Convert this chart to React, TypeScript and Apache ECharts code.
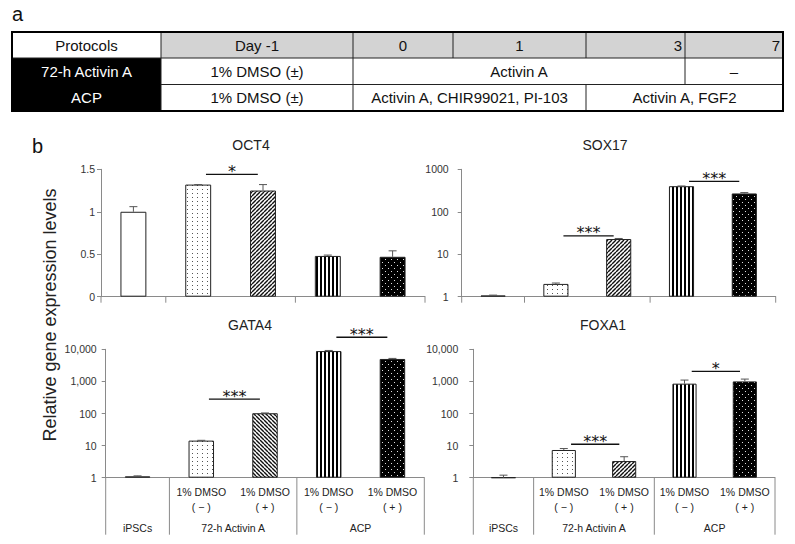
import React, { useEffect, useRef } from 'react';
import * as echarts from 'echarts';

// ---------------- Data ----------------
const categories = [
  'iPSCs',
  '72-h Activin A 1% DMSO (−)',
  '72-h Activin A 1% DMSO (+)',
  'ACP 1% DMSO (−)',
  'ACP 1% DMSO (+)',
];
const dmsoLabels = ['', '1% DMSO', '1% DMSO', '1% DMSO', '1% DMSO'];
const dmsoSigns = ['', '( − )', '( + )', '( − )', '( + )'];
const groupLabels = ['iPSCs', '72-h Activin A', 'ACP'];
const groupMembers = [[0], [1, 2], [3, 4]];
const groupBoundaries = [0, 1, 3, 5];

const oct4Mean = [1.0, 1.32, 1.25, 0.48, 0.47];
const oct4Upper = [1.06, 1.32, 1.32, 0.49, 0.54];
const sox17Mean = [1.07, 2.0, 22.8, 400, 270];
const sox17Upper = [1.09, 2.1, 23.5, 405, 283];
const gata4Mean = [1.1, 14.3, 102, 8800, 5000];
const gata4Upper = [1.14, 14.6, 104, 9200, 5200];
const foxa1Mean = [1.0, 7.3, 3.3, 850, 1000];
const foxa1Upper = [1.2, 8.1, 4.5, 1100, 1180];

// significance brackets: [from category, to category, bracket height]
const oct4Sig = [[1, 2, 1.44]];
const oct4SigLabels = ['*'];
const sox17Sig = [[1, 2, 27], [3, 4, 520]];
const sox17SigLabels = ['***', '***'];
const gata4Sig = [[1, 2, 280], [3, 4, 23700]];
const gata4SigLabels = ['***', '***'];
const foxa1Sig = [[1, 2, 11], [3, 4, 2050]];
const foxa1SigLabels = ['***', '*'];

const tableHeader = ['Protocols', 'Day -1', '0', '1', '3', '7'];
const tableRowNames = ['72-h Activin A', 'ACP'];
const row1Cells = ['1% DMSO (±)', 'Activin A', '–'];
const row2Cells = ['1% DMSO (±)', 'Activin A, CHIR99021, PI-103', 'Activin A, FGF2'];

// ---------------- Layout / style ----------------
const FONT = '"Liberation Sans", Arial, Helvetica, sans-serif';
const AXIS = '#8a8a8a';
const TABLE_X = [12, 161, 353, 453, 586, 685, 783];
const TABLE_Y = [32, 58, 84.5, 111];

const panels = [
  {
    title: 'OCT4', mean: oct4Mean, upper: oct4Upper, sig: oct4Sig, sigLabels: oct4SigLabels,
    log: false, min: 0, max: 1.5, hatch: 'hatchUp', bottom: false, comma: false,
    rect: { left: 101, top: 169.3, width: 324, height: 127.4 }, titlePos: [251, 145], labelMargin: 6,
  },
  {
    title: 'SOX17', mean: sox17Mean, upper: sox17Upper, sig: sox17Sig, sigLabels: sox17SigLabels,
    log: true, min: 1, max: 1000, hatch: 'hatchUp', bottom: false, comma: false,
    rect: { left: 461.7, top: 169.3, width: 314, height: 127.4 }, titlePos: [605, 145], labelMargin: 13,
  },
  {
    title: 'GATA4', mean: gata4Mean, upper: gata4Upper, sig: gata4Sig, sigLabels: gata4SigLabels,
    log: true, min: 1, max: 10000, hatch: 'hatchDown', bottom: true, comma: true,
    rect: { left: 105.7, top: 349.3, width: 318.6, height: 128.4 }, titlePos: [250, 325], labelMargin: 9,
  },
  {
    title: 'FOXA1', mean: foxa1Mean, upper: foxa1Upper, sig: foxa1Sig, sigLabels: foxa1SigLabels,
    log: true, min: 1, max: 10000, hatch: 'hatchUp', bottom: true, comma: true,
    rect: { left: 473.3, top: 349.3, width: 301.7, height: 128.4 }, titlePos: [603, 325], labelMargin: 15,
  },
];

function makePattern(kind: string): any {
  const c = document.createElement('canvas');
  let w = 4;
  let h = 4;
  if (kind === 'dots') { w = 5; h = 4; }
  if (kind === 'vstripes') { w = 4; h = 2; }
  if (kind === 'blackdots') { w = 6; h = 6; }
  c.width = w;
  c.height = h;
  const ctx = c.getContext('2d') as CanvasRenderingContext2D;
  ctx.fillStyle = kind === 'blackdots' ? '#000' : '#fff';
  ctx.fillRect(0, 0, w, h);
  if (kind === 'dots') {
    ctx.fillStyle = '#555';
    ctx.fillRect(2, 1, 1, 1);
  }
  if (kind === 'vstripes') {
    ctx.fillStyle = '#000';
    ctx.fillRect(0, 0, 2, h);
  }
  if (kind === 'blackdots') {
    ctx.fillStyle = '#e0e0e0';
    ctx.fillRect(1, 1, 1, 1);
    ctx.fillRect(4, 4, 1, 1);
  }
  if (kind === 'hatchUp' || kind === 'hatchDown') {
    ctx.strokeStyle = '#111';
    ctx.lineWidth = 1.4;
    const up = kind === 'hatchUp';
    for (const o of [-w, 0, w]) {
      ctx.beginPath();
      if (up) { ctx.moveTo(o, h); ctx.lineTo(o + w, 0); }
      else { ctx.moveTo(o, 0); ctx.lineTo(o + w, h); }
      ctx.stroke();
    }
  }
  return { image: c, repeat: 'repeat', imageWidth: w, imageHeight: h };
}

function txt(text: string, x: number, y: number, opts: any = {}) {
  const align = opts.align || 'center';
  return {
    type: 'text',
    x,
    y,
    rotation: opts.rotation || 0,
    silent: true,
    z: opts.z || 10,
    style: {
      text,
      fill: opts.fill || '#111',
      fontSize: opts.fontSize || 15,
      fontFamily: opts.fontFamily || FONT,
      align,
      textAlign: align,
      verticalAlign: 'middle',
      textVerticalAlign: 'middle',
    },
  };
}

function buildTable(): any[] {
  const tx = TABLE_X;
  const ty = TABLE_Y;
  const els: any[] = [];
  const rect = (x: number, y: number, w: number, h: number, fill: string) => ({
    type: 'rect', silent: true, z: 5, shape: { x, y, width: w, height: h }, style: { fill },
  });
  const line = (x1: number, y1: number, x2: number, y2: number, color = '#222') => ({
    type: 'line', silent: true, z: 6, shape: { x1, y1, x2, y2 }, style: { stroke: color, lineWidth: 1 },
  });
  els.push(rect(tx[0], ty[0], tx[1] - tx[0], ty[1] - ty[0], '#ffffff'));
  els.push(rect(tx[1], ty[0], tx[6] - tx[1], ty[1] - ty[0], '#d3d3d3'));
  els.push(rect(tx[0], ty[1], tx[1] - tx[0], ty[3] - ty[1], '#000000'));
  els.push(line(tx[0], ty[1], tx[6], ty[1]));
  els.push(line(tx[1], ty[2], tx[6], ty[2]));
  els.push(line(tx[1], ty[0], tx[1], ty[3]));
  els.push(line(tx[2], ty[0], tx[2], ty[3]));
  els.push(line(tx[3], ty[0], tx[3], ty[1]));
  els.push(line(tx[4], ty[0], tx[4], ty[1]));
  els.push(line(tx[4], ty[2], tx[4], ty[3]));
  els.push(line(tx[5], ty[0], tx[5], ty[2]));
  els.push({
    type: 'rect', silent: true, z: 7,
    shape: { x: tx[0], y: ty[0], width: tx[6] - tx[0], height: ty[3] - ty[0] },
    style: { fill: 'none', stroke: '#000', lineWidth: 2 },
  });
  const r0 = (ty[0] + ty[1]) / 2;
  const r1 = (ty[1] + ty[2]) / 2;
  const r2 = (ty[2] + ty[3]) / 2;
  els.push(txt(tableHeader[0], (tx[0] + tx[1]) / 2, r0));
  els.push(txt(tableHeader[1], (tx[1] + tx[2]) / 2, r0));
  els.push(txt(tableHeader[2], (tx[2] + tx[3]) / 2, r0));
  els.push(txt(tableHeader[3], (tx[3] + tx[4]) / 2, r0));
  els.push(txt(tableHeader[4], tx[5] - 3, r0, { align: 'right' }));
  els.push(txt(tableHeader[5], tx[6] - 3, r0, { align: 'right' }));
  els.push(txt(tableRowNames[0], (tx[0] + tx[1]) / 2, r1, { fill: '#fff' }));
  els.push(txt(tableRowNames[1], (tx[0] + tx[1]) / 2, r2, { fill: '#fff' }));
  els.push(txt(row1Cells[0], (tx[1] + tx[2]) / 2, r1));
  els.push(txt(row1Cells[1], (tx[2] + tx[5]) / 2, r1));
  els.push(txt(row1Cells[2], (tx[5] + tx[6]) / 2, r1));
  els.push(txt(row2Cells[0], (tx[1] + tx[2]) / 2, r2));
  els.push(txt(row2Cells[1], (tx[2] + tx[4]) / 2, r2));
  els.push(txt(row2Cells[2], (tx[4] + tx[6]) / 2, r2));
  return els;
}

function buildOption(): any {
  const fillsBase: any = {
    white: '#ffffff',
    dots: makePattern('dots'),
    hatchUp: makePattern('hatchUp'),
    hatchDown: makePattern('hatchDown'),
    vstripes: makePattern('vstripes'),
    blackdots: makePattern('blackdots'),
  };
  const grid: any[] = [];
  const xAxis: any[] = [];
  const yAxis: any[] = [];
  const series: any[] = [];
  const graphic: any[] = [];

  panels.forEach((p, i) => {
    grid.push({ ...p.rect, containLabel: false, outerBoundsMode: 'none' });
    xAxis.push({
      type: 'category', gridIndex: i, data: categories,
      axisLine: { show: true, onZero: false, lineStyle: { color: AXIS, width: 1 } },
      axisTick: { show: false }, axisLabel: { show: false }, splitLine: { show: false },
    });
    const yCommon = {
      gridIndex: i,
      axisLine: { show: true, lineStyle: { color: AXIS, width: 1 } },
      axisTick: { show: true, length: 4, lineStyle: { color: AXIS } },
      splitLine: { show: false },
      axisLabel: {
        margin: p.labelMargin, fontSize: 10.5, color: '#333', fontFamily: FONT,
        formatter: (v: number) => (p.comma ? v.toLocaleString('en-US') : String(v)),
      },
    };
    yAxis.push(
      p.log
        ? { type: 'log', logBase: 10, min: p.min, max: p.max, ...yCommon }
        : { type: 'value', min: p.min, max: p.max, interval: 0.5, ...yCommon }
    );
    const fills = [fillsBase.white, fillsBase.dots, fillsBase[p.hatch], fillsBase.vstripes, fillsBase.blackdots];
    series.push({
      type: 'bar', xAxisIndex: i, yAxisIndex: i, barWidth: '40%', silent: true, z: 2,
      data: p.mean.map((m, k) => ({
        value: m,
        itemStyle: { color: fills[k], borderColor: '#222', borderWidth: 1 },
      })),
    });
    // error bars
    series.push({
      type: 'custom', xAxisIndex: i, yAxisIndex: i, silent: true, z: 3,
      encode: { x: 0, y: [1, 2] },
      data: p.mean.map((m, k) => [k, m, p.upper[k]]),
      renderItem: (params: any, api: any) => {
        const k = api.value(0);
        const top = api.coord([k, api.value(1)]);
        const up = api.coord([k, api.value(2)]);
        return {
          type: 'group',
          children: [
            { type: 'line', shape: { x1: top[0], y1: top[1], x2: up[0], y2: up[1] }, style: { stroke: '#555', lineWidth: 1 } },
            { type: 'line', shape: { x1: up[0] - 4, y1: up[1], x2: up[0] + 4, y2: up[1] }, style: { stroke: '#555', lineWidth: 1 } },
          ],
        };
      },
    });
    // significance brackets
    series.push({
      type: 'custom', xAxisIndex: i, yAxisIndex: i, silent: true, z: 4,
      encode: { x: [0, 1], y: 2 },
      data: p.sig,
      renderItem: (params: any, api: any) => {
        const cs = params.coordSys;
        const bw = cs.width / categories.length;
        const a = api.coord([api.value(0), api.value(2)]);
        const b = api.coord([api.value(1), api.value(2)]);
        const x1 = a[0] + 0.12 * bw;
        const x2 = b[0] - 0.08 * bw;
        return {
          type: 'group',
          children: [
            { type: 'line', shape: { x1, y1: a[1], x2, y2: a[1] }, style: { stroke: '#111', lineWidth: 1.3 } },
            {
              type: 'text', x: (x1 + x2) / 2, y: a[1] - 3,
              style: {
                text: p.sigLabels[params.dataIndex], fill: '#111', fontSize: 16, fontFamily: '"DejaVu Sans", sans-serif',
                align: 'center', verticalAlign: 'middle', textAlign: 'center', textVerticalAlign: 'middle',
              },
            },
          ],
        };
      },
    });
    // x-axis group dividers and labels
    series.push({
      type: 'custom', xAxisIndex: i, yAxisIndex: i, silent: true, z: 4,
      encode: { x: 0, y: 1 },
      data: [[0, p.min]],
      renderItem: (params: any, api: any) => {
        const cs = params.coordSys;
        const bw = cs.width / categories.length;
        const y0 = cs.y + cs.height;
        const len = p.bottom ? 57 : 6;
        const children: any[] = [];
        groupBoundaries.forEach((bd) => {
          const x = cs.x + bd * bw;
          children.push({ type: 'line', shape: { x1: x, y1: y0, x2: x, y2: y0 + len }, style: { stroke: AXIS, lineWidth: 1 } });
        });
        if (p.bottom) {
          const lab = (text: string, x: number, y: number) => ({
            type: 'text', x, y,
            style: {
              text, fill: '#222', fontSize: 10.5, fontFamily: FONT,
              align: 'center', verticalAlign: 'middle', textAlign: 'center', textVerticalAlign: 'middle',
            },
          });
          categories.forEach((_, ci) => {
            const cx = api.coord([ci, p.min])[0];
            if (dmsoLabels[ci]) {
              children.push(lab(dmsoLabels[ci], cx, y0 + 14));
              children.push(lab(dmsoSigns[ci], cx, y0 + 29));
            }
          });
          groupMembers.forEach((mem, gi) => {
            let sx = 0;
            mem.forEach((ci) => { sx += api.coord([ci, p.min])[0]; });
            children.push(lab(groupLabels[gi], sx / mem.length, y0 + 50));
          });
        }
        return { type: 'group', children };
      },
    });
    graphic.push(txt(p.title, p.titlePos[0], p.titlePos[1], { fontSize: 14, fill: '#222' }));
  });

  graphic.push(txt('a', 12, 14, { align: 'left', fontSize: 20, fill: '#111' }));
  graphic.push(txt('b', 32, 146, { align: 'left', fontSize: 20, fill: '#111' }));
  graphic.push(txt('Relative gene expression levels', 50, 315, { fontSize: 18, fill: '#222', rotation: Math.PI / 2 }));
  buildTable().forEach((e) => graphic.push(e));

  return {
    animation: false,
    backgroundColor: '#ffffff',
    grid,
    xAxis,
    yAxis,
    series,
    graphic: { elements: graphic },
  };
}

export default function App() {
  const ref = useRef<HTMLDivElement>(null);
  useEffect(() => {
    document.body.style.margin = '0';
    const chart = echarts.init(ref.current as HTMLDivElement, null, { renderer: 'svg' });
    chart.setOption(buildOption());
    return () => chart.dispose();
  }, []);
  return <div ref={ref} style={{ width: 795, height: 544 }} />;
}
